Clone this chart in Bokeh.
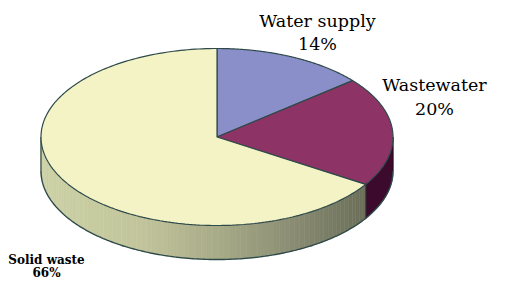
import numpy as np
from bokeh.plotting import figure
from bokeh.models import Range1d
from bokeh.embed import file_html
from bokeh.resources import INLINE
from bokeh.core.properties import value

# ---- data ----
categories = ["Water supply", "Wastewater", "Solid waste"]
shares = [14, 20, 66]
top_colors = ["#8a8fc9", "#8e3366", "#f4f3c6"]
side_colors = ["#6a6ea6", "#3b0a2c", None]  # solid waste side uses gradient

# ---- geometry (pixel coordinates of the picture) ----
CX, CY, A, B, D = 216.5, 136.5, 176.0, 88.5, 34.0
OUT = "#2f4a4a"

p = figure(width=490, height=278, x_range=Range1d(0, 490), y_range=Range1d(278, 0),
           output_backend="svg", toolbar_location=None, min_border=0)
p.axis.visible = False
p.grid.visible = False
p.outline_line_color = None
p.background_fill_color = "white"


def ex(t):
    return CX + A * np.cos(t)


def ey(t, dz=0.0):
    return CY - B * np.sin(t) + dz


# angles (clockwise from 12 o'clock)
total = float(sum(shares))
starts, ends = [], []
cur = np.pi / 2
for s in shares:
    starts.append(cur)
    cur = cur - 2 * np.pi * s / total
    ends.append(cur)


def lerp_color(c1, c2, f):
    a = np.array([int(c1[i:i + 2], 16) for i in (1, 3, 5)], float)
    b = np.array([int(c2[i:i + 2], 16) for i in (1, 3, 5)], float)
    c = a + (b - a) * f
    return "#%02x%02x%02x" % tuple(int(round(v)) for v in c)


def grad(x):
    stops = [(40, "#cdd1a6"), (140, "#c2c59b"), (220, "#a7aa87"), (300, "#878a70"), (370, "#6a6d57")]
    for (x0, c0), (x1, c1) in zip(stops[:-1], stops[1:]):
        if x <= x1:
            return lerp_color(c0, c1, max(0.0, (x - x0) / (x1 - x0)))
    return stops[-1][1]


# ---- side walls (front half: angles in (-pi, 0)) ----
side_xs, side_ys, side_cs = [], [], []
for i, (t0, t1) in enumerate(zip(starts, ends)):
    for shift in (0.0, 2 * np.pi, -2 * np.pi):
        lo = max(t1 + shift, -np.pi)
        hi = min(t0 + shift, 0.0)
        if hi <= lo:
            continue
        if side_colors[i] is None:
            n = 80
            edges = np.linspace(lo, hi, n + 1)
            for a0, a1 in zip(edges[:-1], edges[1:]):
                tt = np.linspace(a0, a1, 4)
                xs = list(ex(tt)) + list(ex(tt[::-1]))
                ys = list(ey(tt)) + list(ey(tt[::-1], D))
                side_xs.append(xs)
                side_ys.append(ys)
                side_cs.append(grad(float(np.mean(ex(tt)))))
        else:
            tt = np.linspace(lo, hi, 60)
            side_xs.append(list(ex(tt)) + list(ex(tt[::-1])))
            side_ys.append(list(ey(tt)) + list(ey(tt[::-1], D)))
            side_cs.append(side_colors[i])

p.patches(side_xs, side_ys, fill_color=side_cs, line_color=side_cs, line_width=0.6)

# vertical edges of the side wall
edge_angles = [-np.pi]
for e in ends:
    m = (e % (2 * np.pi)) - 2 * np.pi
    if -np.pi < m < 0:
        edge_angles.append(m)
for tt in edge_angles:
    p.line([ex(tt), ex(tt)], [ey(tt), ey(tt, D)], line_color=OUT, line_width=1.2)
p.line([ex(0.0), ex(0.0)], [ey(0.0), ey(0.0, D)], line_color="#2a0820", line_width=1.0)

# bottom rim
tb = np.linspace(-np.pi, 0, 200)
p.line(ex(tb), ey(tb, D), line_color=OUT, line_width=1.4)

# ---- top slices ----
top_xs, top_ys = [], []
for t0, t1 in zip(starts, ends):
    tt = np.linspace(t0, t1, 200)
    top_xs.append([CX] + list(ex(tt)))
    top_ys.append([CY] + list(ey(tt)))
p.patches(top_xs, top_ys, fill_color=top_colors, line_color=OUT, line_width=1.2)

# ---- labels ----
font = value("DejaVu Serif")
lab_x = [317, 434, 46]
lab_y1 = [20, 84, 259]
lab_y2 = [43, 108, 272]
sizes = ["17.5px", "17.5px", "12px"]
styles = ["normal", "normal", "bold"]
for i, cat in enumerate(categories):
    p.text([lab_x[i]], [lab_y1[i]], text=[cat], text_font=font, text_font_size=sizes[i],
           text_font_style=styles[i], text_align="center", text_baseline="middle", text_color="black")
    p.text([lab_x[i]], [lab_y2[i]], text=["%d%%" % shares[i]], text_font=font, text_font_size=sizes[i],
           text_font_style=styles[i], text_align="center", text_baseline="middle", text_color="black")

open("out.html", "w").write(file_html(p, INLINE))
